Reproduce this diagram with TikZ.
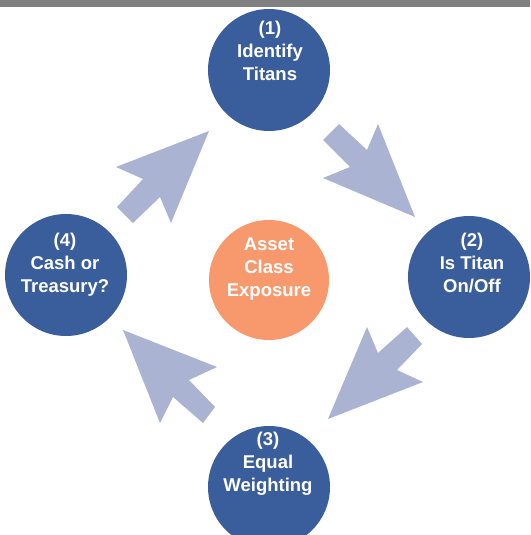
\documentclass[tikz,border=0pt]{standalone}
\usepackage{fontspec}
\setmainfont{Liberation Sans}
\definecolor{stageblue}{RGB}{58,94,155}
\definecolor{huborange}{RGB}{247,152,109}
\definecolor{flowgray}{RGB}{170,180,210}
\definecolor{bargray}{RGB}{128,128,128}
\begin{document}
\begin{tikzpicture}[x=1pt,y=-1pt,
  stage/.style={circle,fill=stageblue,minimum size=122pt,inner sep=0pt},
  hub/.style={circle,fill=huborange,minimum size=120pt,inner sep=0pt},
  stagetext/.style={text=white,align=center,
    font=\bfseries\fontsize{18.5}{23}\selectfont}]
\clip (0,0) rectangle (530,535);
\fill[bargray] (0,0) rectangle (530,7);
% arrows
\fill[flowgray] (323,140) -- (350,167) -- (323,178) -- (415,217)
      -- (378,124) -- (367,150) -- (339,124) -- cycle;
\fill[flowgray] (407,327) -- (378,353) -- (367,327) -- (328,419)
      -- (423,382) -- (397,370) -- (422,344) -- cycle;
\fill[flowgray] (215,407) -- (189,380) -- (217,367) -- (123,330)
      -- (160,423) -- (173,397) -- (203,423) -- cycle;
\fill[flowgray] (117,207) -- (143,179) -- (116,167) -- (209,131)
      -- (171,223) -- (160,197) -- (133,223) -- cycle;
% circles
\node[stage] (identify) at (269,70) {};
\node[stage] (onoff) at (469,277) {};
\node[stage] (weight) at (269,487) {};
\node[stage] (cash) at (66,275) {};
\node[hub] (exposure) at (269,280) {};
% texts
\node[stagetext] (identifytext) at (270,51) {(1)\\Identify\\Titans};
\node[stagetext] (onofftext) at (472,263) {(2)\\Is Titan\\On/Off};
\node[stagetext] (weighttext) at (268,464) {(3)\\Equal\\Weighting};
\node[stagetext] (cashtext) at (65,265) {(4)\\Cash or\\Treasury?};
\node[stagetext] (exposuretext) at (269,269) {Asset\\Class\\Exposure};
\end{tikzpicture}
\end{document}
